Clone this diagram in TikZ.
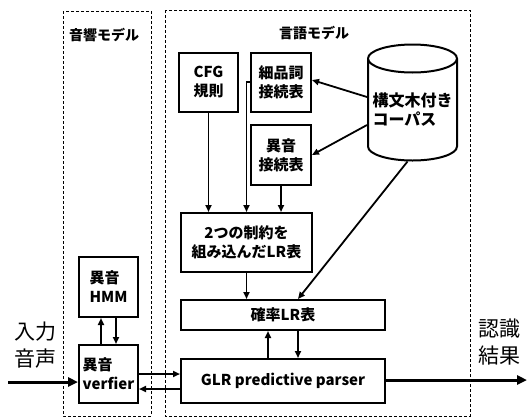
\documentclass[tikz,border=0pt]{standalone}
\usepackage{fontspec}
\newfontfamily\jp{Noto Sans CJK JP}
\usetikzlibrary{arrows.meta,shapes.geometric}
\begin{document}
\begin{tikzpicture}[x=1pt,y=-1pt,
  box/.style={draw, line width=2pt, inner sep=0pt, align=center,
    font=\jp\bfseries\fontsize{15}{19}\selectfont},
  region/.style={draw, dashed, dash pattern=on 3pt off 2pt, line width=1pt},
  lbl/.style={font=\jp\bfseries\fontsize{14}{17}\selectfont, inner sep=0pt},
  big/.style={font=\jp\fontsize{21}{27}\selectfont, inner sep=0pt, align=left},
  arr/.style={line width=1.8pt, -{Triangle[length=7pt,width=6pt]}},
  thick arr/.style={line width=3pt, -{Triangle[length=10pt,width=9pt]}}]
\useasboundingbox (0,0) rectangle (527,418);
% regions
\draw[region] (63,11) rectangle (151,416);
\draw[region] (165,10) rectangle (470,416);
\node[lbl, anchor=west] (acl) at (69,35) {音響モデル};
\node[lbl, anchor=west] (lml) at (279,33) {言語モデル};
% boxes
\node[box, minimum width=59pt, minimum height=59pt] (cfg) at (208.5,82.5) {CFG\\規則};
\node[box, minimum width=60pt, minimum height=59pt] (hs) at (281,82.5) {細品詞\\接続表};
\node[box, minimum width=60pt, minimum height=60pt] (ion) at (281,155) {異音\\接続表};
\node[cylinder, shape border rotate=90, draw, line width=2pt, aspect=0.35,
      minimum width=89pt, minimum height=116pt, inner sep=0pt, align=left,
      font=\jp\bfseries\fontsize{16}{19}\selectfont] (cor) at (412.5,110) {構文木付き\\コーパス};
\node[box, minimum width=131pt, minimum height=59pt] (lr) at (246.5,242.5) {2つの制約を\\組み込んだLR表};
\node[box, minimum width=204pt, minimum height=30pt] (prob) at (283,315) {確率LR表};
\node[box, minimum width=204pt, minimum height=44pt] (glr) at (283,381) {GLR predictive parser};
\node[box, minimum width=59pt, minimum height=60pt, align=left] (hmm) at (108.5,287) {異音\\HMM};
\node[box, minimum width=59pt, minimum height=58pt, align=left] (ver) at (108.5,374) {異音\\verfier};
% texts
\node[big, anchor=west] (inp) at (14,345) {入力\\音声};
\node[big, anchor=west] (out) at (478,342) {認識\\結果};
% connectors
\coordinate (cin) at (8,382);
\coordinate (cout) at (527,380);
\coordinate (bend) at (246.5,82);
\draw[arr] (cor.west |- 0,97) -- (hs.east |- 0,80);
\draw[arr] (cor.west |- 0,125) -- (hs.east |- 0,155);
\draw[arr] (cor.south) ++(-5,0) coordinate (cs) -- (prob.north -| 298,0);
\draw[arr] (cfg.south) -- (cfg.south |- lr.north);
\draw[arr] (hs.west |- bend) -- (bend) -- (bend |- lr.north);
\draw[arr] (ion.south) -- (ion.south |- lr.north);
\draw[arr] (lr.south) -- (lr.south |- prob.north);
\draw[arr] (glr.north -| 268,0) -- (prob.south -| 268,0);
\draw[arr] (prob.south -| 298,0) -- (glr.north -| 298,0);
\draw[arr] (ver.north -| 101,0) -- (hmm.south -| 101,0);
\draw[arr] (hmm.south -| 116,0) -- (ver.north -| 116,0);
\draw[arr] (ver.east |- 0,374) -- (glr.west |- 0,374);
\draw[arr] (glr.west |- 0,389) -- (ver.east |- 0,389);
\draw[thick arr] (cin) -- (ver.west |- cin);
\draw[thick arr] (glr.east |- cout) -- (cout);
\end{tikzpicture}
\end{document}
